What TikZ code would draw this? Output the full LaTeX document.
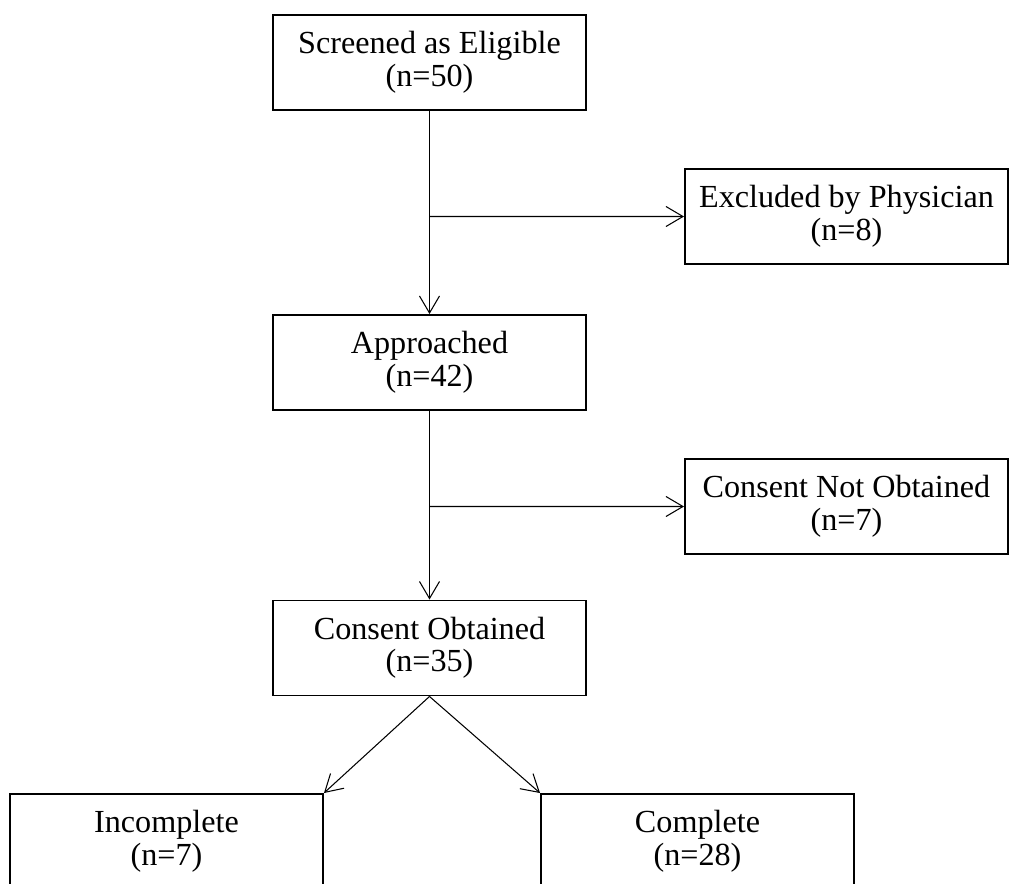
\documentclass[tikz,border=0pt]{standalone}
\usepackage{fontspec}
\usepackage{tikz}
\usetikzlibrary{arrows.meta}
\newfontfamily\flowfont{Liberation Serif}

\begin{document}
\begin{tikzpicture}[scale=0.2]
\tikzstyle{every node}+=[inner sep=0pt]
\tikzstyle{stagebox}=[draw=black, line width=1.1pt, minimum width=6.26cm, minimum height=1.9cm, align=center, font=\flowfont\fontsize{18.3}{18.5}\selectfont]
\tikzstyle{sidebox}=[stagebox, minimum width=6.46cm]
\tikzstyle{flow}=[black, line width=0.6pt, -{Straight Barb[length=3.4mm,width=4mm]}]
\clip (0,0) rectangle (101.1,-88.4);
\node [stagebox] (screened) at (42.95,-6.25) {Screened as Eligible\\(n=50)};
\node [sidebox] (excluded) at (84.65,-21.65) {Excluded by Physician\\(n=8)};
\node [stagebox] (approached) at (42.95,-36.25) {Approached\\(n=42)};
\node [sidebox] (notobtained) at (84.65,-50.65) {Consent Not Obtained\\(n=7)};
\node [stagebox] (obtained) at (42.95,-64.8) {Consent Obtained\\(n=35)};
\node [stagebox] (incomplete) at (16.65,-84.15) {Incomplete\\(n=7)};
\node [stagebox] (complete) at (69.75,-84.15) {Complete\\(n=28)};
\coordinate (split1) at (screened.south |- excluded.west);
\coordinate (split2) at (approached.south |- notobtained.west);
\draw [flow] (screened.south) -- (approached.north);
\draw [flow] (split1) -- (excluded.west);
\draw [flow] (approached.south) -- (obtained.north);
\draw [flow] (split2) -- (notobtained.west);
\draw [flow] (obtained.south) -- (incomplete.north east);
\draw [flow] (obtained.south) -- (complete.north west);
\end{tikzpicture}
\end{document}
